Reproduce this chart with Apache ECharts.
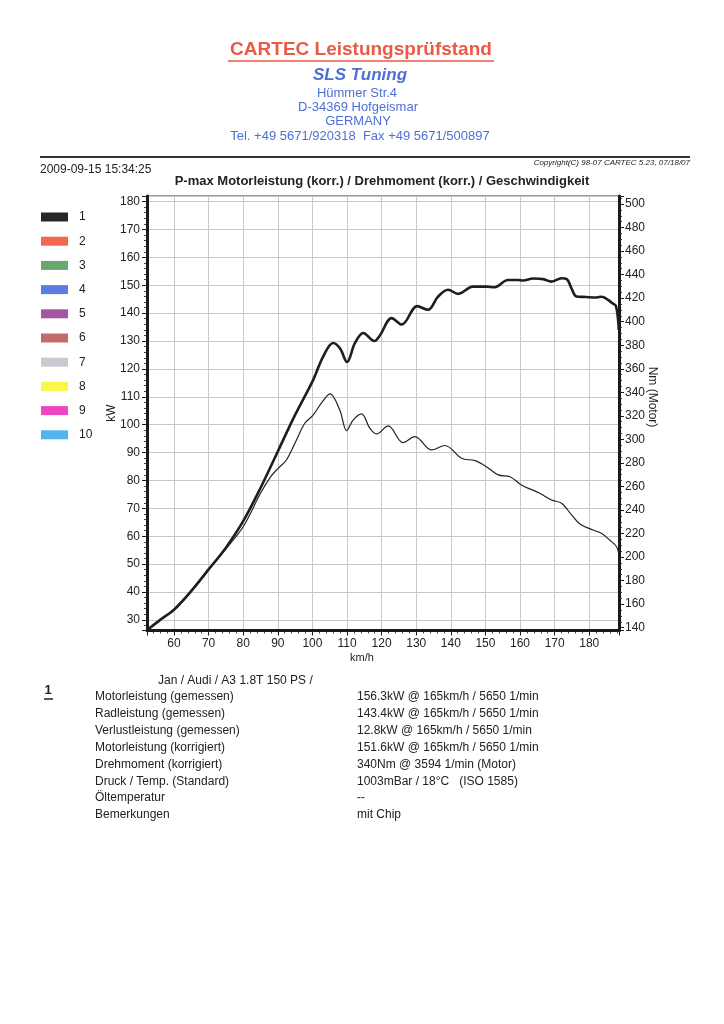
<!DOCTYPE html>
<html>
<head>
<meta charset="utf-8">
<script src="https://cdn.jsdelivr.net/npm/echarts@6/dist/echarts.min.js"></script>
<style>
html,body{margin:0;padding:0;background:#fff;}
#c{width:724px;height:1024px;}
</style>
</head>
<body>
<div id="c"></div>
<script>
// ---- data ----
const powerSpeed = [52.3, 56, 60, 65, 70, 75, 80, 85, 90, 95, 100.2, 103.1, 106, 108, 110, 112.3, 114.7, 117.9, 119.5, 122.9, 125.8, 130.3, 133.4, 136.3, 139.2, 142.1, 146.4, 150.3, 152.7, 156.5, 159.4, 160.9, 163.8, 166.7, 169.1, 172, 173.5, 175, 176.3, 179, 182.1, 183.5, 186.9, 187.7, 188.3, 188.55];
const powerKw    = [26.4, 30.0, 33.7, 40.4, 48.1, 55.9, 65.4, 77.3, 90.4, 103.5, 116.0, 124.4, 129.3, 127.3, 122.5, 129.3, 132.9, 130.0, 132.0, 138.2, 135.9, 142.5, 141.2, 145.9, 148.4, 146.9, 149.5, 149.5, 149.3, 151.9, 151.9, 151.7, 152.4, 152.2, 151.3, 152.5, 152.2, 148.5, 146.0, 145.8, 145.6, 145.9, 143.4, 142.6, 138.0, 134.0];
const torqueSpeed = [52.3, 56, 60, 65, 70, 75, 80, 85, 88, 90.1, 92.5, 95.4, 97.8, 100.2, 102.9, 105.1, 107.9, 109.9, 111.8, 114.2, 116.6, 118.5, 121.9, 126.2, 129.6, 134.4, 138.3, 143.1, 147, 150.3, 153.7, 157.1, 160.4, 165.7, 169.1, 172, 174.9, 177.3, 181.1, 183.5, 185.9, 187.9, 188.6];
const torqueNm    = [137.6, 146.6, 154.5, 170.6, 189.0, 206.9, 225.8, 254.2, 268.5, 275.4, 282.5, 299.5, 313.7, 320.7, 332.0, 338.6, 325.0, 307.4, 316.5, 321.6, 309.4, 304.6, 311.4, 297.2, 302.3, 291.0, 294.8, 283.9, 281.9, 276.8, 269.8, 268.3, 261.3, 254.2, 248.5, 245.7, 235.8, 228.1, 223.0, 220.2, 214.5, 208.8, 201.8];
const legendNames  = ['1','2','3','4','5','6','7','8','9','10'];
const legendColors = ['#262626','#f2684f','#68a870','#5b7de0','#a455a3','#c46a6a','#c9c9d2','#fbf64a','#ef45c3','#55b3f0'];
const infoLabels = ['Motorleistung (gemessen)','Radleistung (gemessen)','Verlustleistung (gemessen)','Motorleistung (korrigiert)','Drehmoment (korrigiert)','Druck / Temp. (Standard)','Öltemperatur','Bemerkungen'];
const infoValues = ['156.3kW @ 165km/h / 5650 1/min','143.4kW @ 165km/h / 5650 1/min','12.8kW @ 165km/h / 5650 1/min','151.6kW @ 165km/h / 5650 1/min','340Nm @ 3594 1/min (Motor)','1003mBar / 18°C   (ISO 1585)','--','mit Chip'];

const FONT = '"Liberation Sans", Arial, sans-serif';
const powerData = powerSpeed.map((s, i) => [s, powerKw[i]]);
const torqueData = torqueSpeed.map((s, i) => [s, torqueNm[i]]);

const chart = echarts.init(document.getElementById('c'), null, {renderer: 'canvas'});

const series = [
  {name: '1', type: 'line', xAxisIndex: 0, yAxisIndex: 0, data: powerData, smooth: 0.35, showSymbol: false,
   color: legendColors[0], lineStyle: {color: '#1e1e1e', width: 2.6}, z: 5},
  {name: '1', type: 'line', xAxisIndex: 0, yAxisIndex: 1, data: torqueData, smooth: 0.35, showSymbol: false,
   color: legendColors[0], lineStyle: {color: '#222', width: 1.2}, z: 4}
];
for (let i = 1; i < legendNames.length; i++) {
  series.push({name: legendNames[i], type: 'line', data: [], color: legendColors[i]});
}

const txt = (text, x, y, size, opts) => Object.assign({
  type: 'text', x: x, y: y, silent: true,
  style: Object.assign({text: text, fill: '#222', font: size + 'px ' + FONT, textAlign: 'left', textVerticalAlign: 'middle'}, (opts && opts.style) || {})
}, opts && opts.rotation !== undefined ? {rotation: opts.rotation} : {});

const graphics = [
  txt('CARTEC Leistungsprüfstand', 361, 50, 19, {style: {fill: '#ea5a45', font: 'bold 19px ' + FONT, textAlign: 'center'}}),
  {type: 'line', silent: true, shape: {x1: 228, y1: 61, x2: 494, y2: 61}, style: {stroke: '#ea5a45', lineWidth: 1.5}},
  txt('SLS Tuning', 360, 75, 17, {style: {fill: '#4e6fd6', font: 'italic bold 17px ' + FONT, textAlign: 'center'}}),
  txt('Hümmer Str.4', 357, 93, 13, {style: {fill: '#4e6fd6', textAlign: 'center'}}),
  txt('D-34369 Hofgeismar', 358, 107, 13, {style: {fill: '#4e6fd6', textAlign: 'center'}}),
  txt('GERMANY', 358, 121, 13, {style: {fill: '#4e6fd6', textAlign: 'center'}}),
  txt('Tel. +49 5671/920318  Fax +49 5671/500897', 360, 136, 13, {style: {fill: '#4e6fd6', textAlign: 'center'}}),
  {type: 'line', silent: true, shape: {x1: 40, y1: 157, x2: 690, y2: 157}, style: {stroke: '#333', lineWidth: 2}},
  txt('Copyright(C) 98-07 CARTEC 5.23, 07/18/07', 690, 163, 8, {style: {font: 'italic 8px ' + FONT, textAlign: 'right'}}),
  txt('2009-09-15 15:34:25', 40, 170, 12),
  txt('P-max Motorleistung (korr.) / Drehmoment (korr.) / Geschwindigkeit', 382, 181, 13, {style: {font: 'bold 13px ' + FONT, textAlign: 'center'}}),
  txt('kW', 112, 413, 12, {rotation: Math.PI / 2, style: {textAlign: 'center'}}),
  txt('Nm (Motor)', 652, 397, 12, {rotation: -Math.PI / 2, style: {textAlign: 'center'}}),
  txt('km/h', 362, 658, 11, {style: {textAlign: 'center'}}),
  txt('Jan / Audi / A3 1.8T 150 PS /', 158, 681, 12),
  txt('1', 48, 690, 13, {style: {font: 'bold 13px ' + FONT, textAlign: 'center'}}),
  {type: 'line', silent: true, shape: {x1: 44, y1: 699, x2: 53, y2: 699}, style: {stroke: '#222', lineWidth: 1.5}}
];
const rowY0 = 697, rowStep = 16.85;
infoLabels.forEach((l, i) => graphics.push(txt(l, 95, rowY0 + i * rowStep, 12)));
infoValues.forEach((v, i) => graphics.push(txt(v, 357, rowY0 + i * rowStep, 12)));

const axisLabelStyle = {color: '#222', fontSize: 12, fontFamily: FONT, showMinLabel: false, showMaxLabel: false};
const minorTickStyle = {show: true, splitNumber: 5, length: 3, lineStyle: {color: '#1a1a1a', width: 0.8}};

const option = {
  animation: false,
  backgroundColor: '#fff',
  legend: {
    orient: 'vertical', left: 36, top: 205, icon: 'rect',
    itemWidth: 27, itemHeight: 9, itemGap: 10.2,
    data: legendNames, selectedMode: false,
    textStyle: {color: '#222', fontSize: 12, fontFamily: FONT, lineHeight: 14, padding: [0, 0, 0, 6]}
  },
  grid: {left: 147, right: 105, top: 196, bottom: 393.5, show: true, borderColor: '#333', borderWidth: 1, backgroundColor: '#fff'},
  xAxis: {
    type: 'value', min: 52.2, max: 188.6, splitNumber: 13,
    axisLine: {show: true, onZero: false, lineStyle: {color: '#1a1a1a', width: 3}},
    axisTick: {show: true, length: 5, lineStyle: {color: '#1a1a1a'}},
    minorTick: minorTickStyle,
    axisLabel: Object.assign({margin: 7}, axisLabelStyle),
    splitLine: {show: true, lineStyle: {color: '#c8c8c8', width: 1}}
  },
  yAxis: [
    {
      type: 'value', position: 'left', min: 26.2, max: 182, splitNumber: 15,
      axisLine: {show: true, onZero: false, lineStyle: {color: '#1a1a1a', width: 3}},
      axisTick: {show: true, length: 5, lineStyle: {color: '#1a1a1a'}},
      minorTick: minorTickStyle,
      axisLabel: Object.assign({margin: 7}, axisLabelStyle),
      splitLine: {show: true, lineStyle: {color: '#c8c8c8', width: 1}}
    },
    {
      type: 'value', position: 'right', min: 137.6, max: 506.8, splitNumber: 18,
      axisLine: {show: true, onZero: false, lineStyle: {color: '#1a1a1a', width: 3}},
      axisTick: {show: true, length: 5, lineStyle: {color: '#1a1a1a'}},
      minorTick: Object.assign({}, minorTickStyle, {splitNumber: 4}),
      axisLabel: Object.assign({margin: 6}, axisLabelStyle),
      splitLine: {show: false}
    }
  ],
  series: series,
  graphic: graphics
};
chart.setOption(option);
</script>
</body>
</html>
